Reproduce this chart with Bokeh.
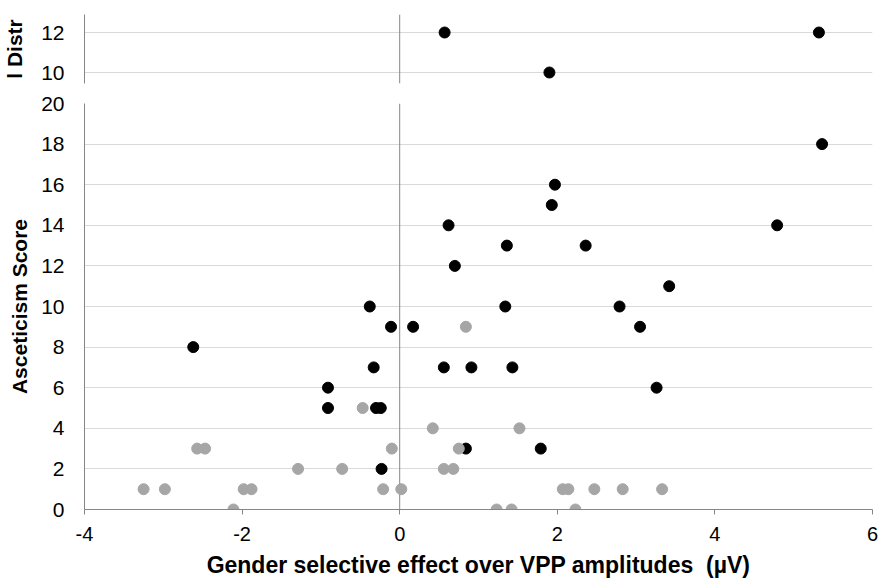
from bokeh.plotting import figure
from bokeh.models import Span, Range1d, FixedTicker
from bokeh.layouts import column
from bokeh.embed import file_html
from bokeh.resources import INLINE

# ---- data ----
black_x = [-2.62, -0.91, -0.91, -0.38, -0.33, -0.30, -0.24, -0.23, -0.11, 0.17,
           0.56, 0.62, 0.70, 0.84, 0.91, 1.34, 1.36, 1.43, 1.79, 1.93,
           1.97, 2.36, 2.79, 3.05, 3.26, 3.42, 4.79, 5.36]
black_y = [8, 6, 5, 10, 7, 5, 5, 2, 9, 9,
           7, 14, 12, 3, 7, 10, 13, 7, 3, 15,
           16, 13, 10, 9, 6, 11, 14, 18]

gray_x = [-3.25, -2.98, -2.57, -2.47, -2.11, -1.98, -1.88, -1.29, -0.73, -0.47,
          -0.21, -0.10, 0.02, 0.42, 0.56, 0.68, 0.75, 0.84, 1.52, 1.23,
          1.42, 2.23, 2.07, 2.14, 2.47, 2.83, 3.33]
gray_y = [1, 1, 3, 3, 0, 1, 1, 2, 2, 5,
          1, 3, 1, 4, 2, 2, 3, 9, 4, 0,
          0, 0, 1, 1, 1, 1, 1]

top_x = [0.57, 5.32, 1.90]
top_y = [12, 12, 10]

x_ticks = [-4, -2, 0, 2, 4, 6]
y_ticks = [0, 2, 4, 6, 8, 10, 12, 14, 16, 18, 20]
top_y_ticks = [10, 12]

x_title = "Gender selective effect over VPP amplitudes\u00a0\u00a0(\u00b5V)"
y_title = "Asceticism Score"
top_y_title = "l Distr"

FONT = "Liberation Sans"
AXIS_COLOR = "#868686"
GRID_COLOR = "#d9d9d9"
BLACK = "#000000"
GRAY = "#a6a6a6"


def style_y(p, ticks, label, standoff):
    ax = p.yaxis[0]
    ax.ticker = FixedTicker(ticks=ticks)
    ax.axis_label = label
    ax.axis_label_text_font = FONT
    ax.axis_label_text_font_style = "bold"
    ax.axis_label_text_font_size = "21px"
    ax.axis_label_text_color = "#000000"
    ax.axis_label_standoff = standoff
    ax.major_label_text_font = FONT
    ax.major_label_text_font_size = "21px"
    ax.major_label_text_color = "#000000"
    ax.major_label_standoff = 20
    ax.major_tick_out = 0
    ax.major_tick_in = 0
    ax.minor_tick_out = 0
    ax.minor_tick_in = 0
    ax.axis_line_color = AXIS_COLOR
    p.ygrid.ticker = FixedTicker(ticks=ticks)
    p.ygrid.grid_line_color = GRID_COLOR
    p.xgrid.grid_line_color = None
    p.outline_line_color = None
    zero = Span(location=0, dimension="height", line_color=AXIS_COLOR,
                line_width=1, level="underlay")
    p.add_layout(zero)


# ---- top (partially visible) panel ----
top = figure(width=880, height=93, x_range=Range1d(-4, 6), y_range=Range1d(9.45, 12.9),
             output_backend="svg", toolbar_location=None,
             min_border_left=83, min_border_right=8, min_border_top=14, min_border_bottom=10)
top.xaxis.visible = False
style_y(top, top_y_ticks, top_y_title, 12)
top.scatter(top_x, top_y, size=11, color=BLACK)

# ---- main panel ----
p = figure(width=880, height=487, x_range=Range1d(-4, 6), y_range=Range1d(0, 20),
           output_backend="svg", toolbar_location=None,
           min_border_left=83, min_border_right=8, min_border_top=10, min_border_bottom=71)
style_y(p, y_ticks, y_title, 7)
xa = p.xaxis[0]
xa.ticker = FixedTicker(ticks=x_ticks)
xa.major_label_overrides = {t: str(t) for t in x_ticks}
xa.axis_label = x_title
xa.axis_label_text_font = FONT
xa.axis_label_text_font_style = "bold"
xa.axis_label_text_font_size = "23px"
xa.axis_label_text_color = "#000000"
xa.axis_label_standoff = 8
xa.major_label_text_font = FONT
xa.major_label_text_font_size = "20px"
xa.major_label_text_color = "#000000"
xa.major_label_standoff = 12
xa.major_tick_out = 5
xa.major_tick_in = 0
xa.minor_tick_out = 0
xa.minor_tick_in = 0
xa.axis_line_color = AXIS_COLOR
xa.major_tick_line_color = AXIS_COLOR

p.scatter(black_x, black_y, size=11, color=BLACK)
p.scatter(gray_x, gray_y, size=11, color=GRAY)

layout = column(top, p, spacing=0)
open("out.html", "w").write(file_html(layout, INLINE))
